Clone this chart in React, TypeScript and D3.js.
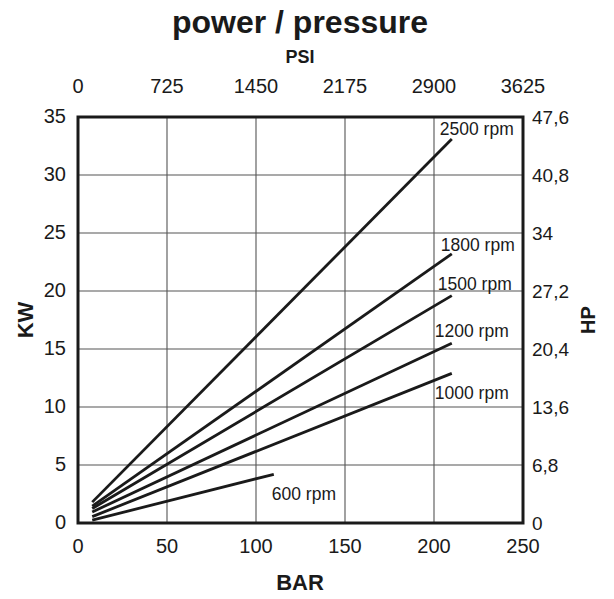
import * as d3 from 'd3'

const barTicks = [0, 50, 100, 150, 200, 250]
const psiTicks = ['0', '725', '1450', '2175', '2900', '3625']
const kwTicks = [0, 5, 10, 15, 20, 25, 30, 35]
const hpTicks = ['0', '6,8', '13,6', '20,4', '27,2', '34', '40,8', '47,6']

const rpmNames = ['2500 rpm', '1800 rpm', '1500 rpm', '1200 rpm', '1000 rpm', '600 rpm']
const startBar = [8, 8, 8, 8, 8, 8]
const startKw = [1.8, 1.45, 1.25, 0.95, 0.55, 0.25]
const endBar = [210, 210, 210, 210, 210, 110]
const endKw = [33.1, 23.2, 19.6, 15.5, 12.9, 4.2]

const width = 614
const height = 599
const left = 78
const right = 523
const top = 117
const bottom = 523
const font = '"Liberation Sans", Arial, Helvetica, sans-serif'

export default function App() {
  const x = d3.scaleLinear().domain([0, 250]).range([left, right])
  const y = d3.scaleLinear().domain([0, 35]).range([bottom, top])
  const line = d3
    .line<[number, number]>()
    .x((d) => x(d[0]))
    .y((d) => y(d[1]))

  // label placement, offsets from the line's end point
  const labelDx = [-12, -11, -14, -17, -17, -2]
  const labelDy = [-4, -3, -6, -6, 26, 26]

  return (
    <svg width={width} height={height} style={{ position: 'absolute', left: 0, top: 0 }} fontFamily={font}>
      <rect width={width} height={height} fill="#fff" />
      <text x={300} y={33} textAnchor="middle" fontSize={32} fontWeight="bold" fill="#1a1a1a">
        power / pressure
      </text>
      <text x={300} y={63} textAnchor="middle" fontSize={18} fontWeight="bold" fill="#1a1a1a">
        PSI
      </text>

      {barTicks.slice(1, -1).map((t) => (
        <line key={'gx' + t} x1={x(t)} x2={x(t)} y1={top} y2={bottom} stroke="#555" strokeWidth={1.1} />
      ))}
      {kwTicks.slice(1, -1).map((t) => (
        <line key={'gy' + t} x1={left} x2={right} y1={y(t)} y2={y(t)} stroke="#555" strokeWidth={1.1} />
      ))}

      {rpmNames.map((name, i) => (
        <path
          key={name}
          d={line([
            [startBar[i], startKw[i]],
            [endBar[i], endKw[i]],
          ]) ?? ''}
          fill="none"
          stroke="#1a1a1a"
          strokeWidth={2.8}
        />
      ))}

      {rpmNames.map((name, i) => (
        <text
          key={'l' + name}
          x={x(endBar[i]) + labelDx[i]}
          y={y(endKw[i]) + labelDy[i]}
          fontSize={17.5}
          fill="#1a1a1a"
        >
          {name}
        </text>
      ))}

      <rect x={left} y={top} width={right - left} height={bottom - top} fill="none" stroke="#1a1a1a" strokeWidth={3} />

      {barTicks.map((t) => (
        <text key={'bx' + t} x={x(t)} y={553} textAnchor="middle" fontSize={20} fill="#1a1a1a">
          {t}
        </text>
      ))}
      {barTicks.map((t, i) => (
        <text key={'px' + t} x={x(t)} y={93} textAnchor="middle" fontSize={20} fill="#1a1a1a">
          {psiTicks[i]}
        </text>
      ))}
      {kwTicks.map((t) => (
        <text key={'ky' + t} x={66} y={y(t) + 6} textAnchor="end" fontSize={20} fill="#1a1a1a">
          {t}
        </text>
      ))}
      {kwTicks.map((t, i) => (
        <text key={'hy' + t} x={532} y={y(t) + 7} textAnchor="start" fontSize={19} fill="#1a1a1a">
          {hpTicks[i]}
        </text>
      ))}

      <text x={300} y={590} textAnchor="middle" fontSize={22} fontWeight="bold" fill="#1a1a1a">
        BAR
      </text>
      <text transform={`translate(33, ${(top + bottom) / 2}) rotate(-90)`} textAnchor="middle" fontSize={22} fontWeight="bold" fill="#1a1a1a">
        KW
      </text>
      <text transform={`translate(595, ${(top + bottom) / 2}) rotate(-90)`} textAnchor="middle" fontSize={20} fontWeight="bold" fill="#1a1a1a">
        HP
      </text>
    </svg>
  )
}
